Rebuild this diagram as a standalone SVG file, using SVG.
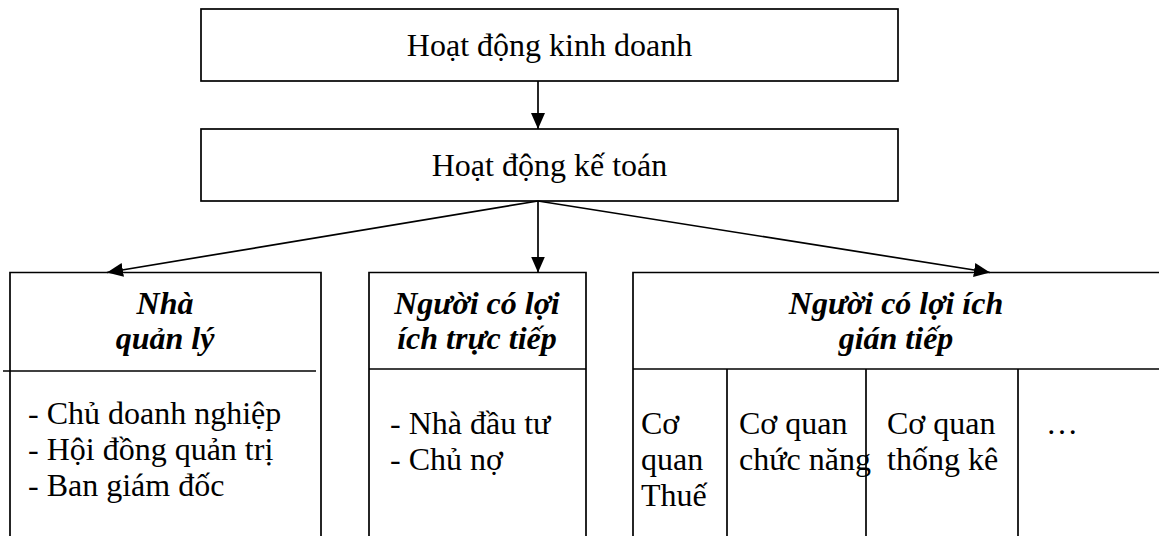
<svg xmlns="http://www.w3.org/2000/svg" width="1159" height="536" viewBox="0 0 1159 536">
  <style>
    .box { fill: #fff; stroke: #000; stroke-width: 1.7; }
    .ln { fill: none; stroke: #000; stroke-width: 1.7; }
    .t { font-family: "Liberation Serif", "Times New Roman", serif; font-size: 32px; fill: #000; }
    .h { font-family: "Liberation Serif", "Times New Roman", serif; font-size: 32px; font-weight: bold; font-style: italic; fill: #000; text-anchor: middle; }
    .c { text-anchor: middle; }
  </style>
  <defs>
    <marker id="arrow" viewBox="0 0 16 14" refX="16" refY="7" markerWidth="16" markerHeight="14" markerUnits="userSpaceOnUse" orient="auto">
      <path d="M0,0 L16,7 L0,14 Z" fill="#000"/>
    </marker>
  </defs>

  <!-- top process -->
  <g id="kinh-doanh">
    <rect class="box" x="201" y="9" width="697" height="72"/>
    <text class="t c" x="549.5" y="56">Hoạt động kinh doanh</text>
  </g>

  <g id="ke-toan">
    <rect class="box" x="201" y="129" width="697" height="72"/>
    <text class="t c" x="549.5" y="176">Hoạt động kế toán</text>
  </g>

  <!-- managers -->
  <g id="nha-quan-ly">
    <path class="ln" d="M10,536 V272.5 H321 V536"/>
    <line class="ln" x1="3" y1="371" x2="316" y2="371"/>
    <text class="h" x="165" y="314">Nhà</text>
    <text class="h" x="165" y="349">quản lý</text>
    <text class="t" x="28" y="424">- Chủ doanh nghiệp</text>
    <text class="t" x="28" y="460">- Hội đồng quản trị</text>
    <text class="t" x="28" y="496">- Ban giám đốc</text>
  </g>

  <!-- direct stakeholders -->
  <g id="loi-ich-truc-tiep">
    <path class="ln" d="M369,536 V272.5 H586 V536"/>
    <line class="ln" x1="369" y1="369" x2="586" y2="369"/>
    <text class="h" x="477" y="314">Người có lợi</text>
    <text class="h" x="477" y="349">ích trực tiếp</text>
    <text class="t" x="390" y="434">- Nhà đầu tư</text>
    <text class="t" x="390" y="470">- Chủ nợ</text>
  </g>

  <!-- indirect stakeholders -->
  <g id="loi-ich-gian-tiep">
    <path class="ln" d="M633,536 V272.5 H1159"/>
    <line class="ln" x1="633" y1="369" x2="1159" y2="369"/>
    <line class="ln" x1="727" y1="369" x2="727" y2="536"/>
    <line class="ln" x1="866" y1="369" x2="866" y2="536"/>
    <line class="ln" x1="1018" y1="369" x2="1018" y2="536"/>
    <text class="h" x="896" y="314">Người có lợi ích</text>
    <text class="h" x="896" y="349">gián tiếp</text>
    <text class="t" x="641" y="434">Cơ</text>
    <text class="t" x="641" y="470">quan</text>
    <text class="t" x="641" y="506">Thuế</text>
    <text class="t" x="739" y="434">Cơ quan</text>
    <text class="t" x="739" y="470">chức năng</text>
    <text class="t" x="887" y="434">Cơ quan</text>
    <text class="t" x="887" y="470">thống kê</text>
    <text class="t" x="1046" y="434">…</text>
  </g>

  <!-- connectors -->
  <g id="connectors">
    <line class="ln" x1="538" y1="81" x2="538" y2="129" marker-end="url(#arrow)"/>
    <line class="ln" x1="538" y1="201" x2="107" y2="272.5" marker-end="url(#arrow)"/>
    <line class="ln" x1="538" y1="201" x2="538" y2="272.5" marker-end="url(#arrow)"/>
    <line class="ln" x1="538" y1="201" x2="990" y2="272.5" marker-end="url(#arrow)"/>
  </g>
</svg>
